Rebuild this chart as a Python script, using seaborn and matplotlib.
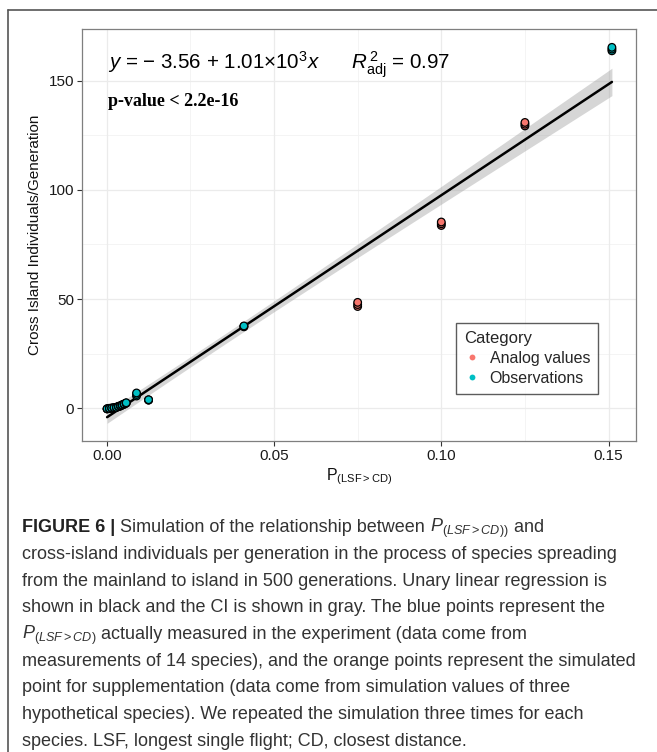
import matplotlib
matplotlib.use("Agg")
import matplotlib.pyplot as plt
from matplotlib import font_manager
from matplotlib.lines import Line2D
import numpy as np
import pandas as pd
import seaborn as sns

# ---------------- data ----------------
obs_x = [0.0001, 0.0001, 0.0001, 0.0008, 0.0008, 0.0008, 0.0015, 0.0015, 0.0015,
         0.0022, 0.0022, 0.0022, 0.0029, 0.0029, 0.0029, 0.0035, 0.0035, 0.0035,
         0.0041, 0.0041, 0.0041, 0.0046, 0.0046, 0.0046, 0.0052, 0.0052, 0.0052,
         0.0058, 0.0058, 0.0058, 0.0089, 0.0089, 0.0089, 0.0125, 0.0125, 0.0125,
         0.0410, 0.0410, 0.0410, 0.1510, 0.1510, 0.1510]
obs_y = [-0.3, -0.3, -0.2, -0.1, 0.0, -0.1, 0.0, 0.1, 0.1,
         0.2, 0.2, 0.3, 0.4, 0.5, 0.4, 0.8, 0.9, 0.8,
         1.0, 1.1, 1.2, 1.5, 1.6, 1.5, 1.8, 1.9, 2.0,
         2.3, 2.4, 2.5, 5.6, 6.3, 7.0, 3.7, 3.8, 3.9,
         37.3, 37.5, 37.7, 163.7, 164.5, 165.3]
ana_x = [0.075, 0.075, 0.075, 0.100, 0.100, 0.100, 0.125, 0.125, 0.125]
ana_y = [46.6, 47.5, 48.5, 83.7, 84.5, 85.3, 129.3, 130.1, 130.9]
categories = ["Analog values", "Observations"]
x_ticks = [0.00, 0.05, 0.10, 0.15]
x_tick_labels = ["0.00", "0.05", "0.10", "0.15"]
y_ticks = [0, 50, 100, 150]
y_tick_labels = ["0", "50", "100", "150"]

df = pd.DataFrame({
    "x": ana_x + obs_x,
    "y": ana_y + obs_y,
    "Category": [categories[0]] * len(ana_x) + [categories[1]] * len(obs_x),
})
palette = {"Analog values": "#F8766D", "Observations": "#00BFC4"}

# ---------------- style ----------------
sns.set_theme(style="white")
plt.rcParams["font.family"] = ["Liberation Sans", "DejaVu Sans"]
plt.rcParams["mathtext.fontset"] = "custom"
plt.rcParams["mathtext.rm"] = "Liberation Sans"
plt.rcParams["mathtext.it"] = "Liberation Sans:italic"
plt.rcParams["mathtext.bf"] = "Liberation Sans:bold"

W, H = 657, 752
fig = plt.figure(figsize=(W / 100, H / 100), dpi=100)
L, R, T, B = 82, 636, 29, 441
ax = fig.add_axes([L / W, 1 - B / H, (R - L) / W, (B - T) / H])

# grid
for v in (0.025, 0.075, 0.125):
    ax.axvline(v, color="#F3F3F3", lw=0.6, zorder=0)
for v in (25, 75, 125):
    ax.axhline(v, color="#F3F3F3", lw=0.6, zorder=0)
for v in x_ticks:
    ax.axvline(v, color="#EBEBEB", lw=0.9, zorder=0)
for v in y_ticks:
    ax.axhline(v, color="#EBEBEB", lw=0.9, zorder=0)

# confidence band (t-based, like geom_smooth)
xa = np.asarray(df["x"], float)
ya = np.asarray(df["y"], float)
n = len(xa)
b1, b0 = np.polyfit(xa, ya, 1)
resid = ya - (b0 + b1 * xa)
s = np.sqrt(np.sum(resid ** 2) / (n - 2))
sxx = np.sum((xa - xa.mean()) ** 2)
xg = np.linspace(xa.min(), xa.max(), 200)
se = s * np.sqrt(1 / n + (xg - xa.mean()) ** 2 / sxx)
tq = 2.01
yg = b0 + b1 * xg
ax.fill_between(xg, yg - tq * se, yg + tq * se, color="#999999", alpha=0.4,
                lw=0, zorder=2)

sns.regplot(data=df, x="x", y="y", ax=ax, scatter=False, ci=None,
            color="black", line_kws={"lw": 1.8, "zorder": 3}, truncate=True)

sns.scatterplot(data=df, x="x", y="y", hue="Category", palette=palette,
                hue_order=categories, s=30, edgecolor="black", linewidth=0.9,
                ax=ax, legend=False, zorder=4)

ax.set_xlim(-0.0074, 0.1582)
ax.set_ylim(-15.0, 173.7)
ax.set_xticks(x_ticks)
ax.set_xticklabels(x_tick_labels)
ax.set_yticks(y_ticks)
ax.set_yticklabels(y_tick_labels)
ax.tick_params(axis="both", direction="out", length=3.5, width=0.8,
               color="#333333", labelsize=11, labelcolor="#1A1A1A", pad=2,
               bottom=True, left=True)
for sp in ax.spines.values():
    sp.set_color("#7F7F7F")
    sp.set_linewidth(0.9)

ax.set_xlabel(r"P$_{\mathrm{(LSF{>}CD)}}$", fontsize=11.5, labelpad=3, color="#111111")
ax.set_ylabel("Cross Island Individuals/Generation", fontsize=11, labelpad=5,
              color="#111111")

# annotations
ax.text(0.0005, 157.5,
        r"$y$ = $-$ 3.56 + 1.01$\times$10$^3$$x$      $R^{\,2}_{\mathrm{adj}}$ = 0.97",
        fontsize=14.8, ha="left", va="center", color="black")
ax.text(0.0005, 140.5, "p-value < 2.2e-16", fontsize=13, fontweight="bold",
        family=["Liberation Serif", "DejaVu Serif"], ha="left", va="center",
        color="black")

# legend
handles = [Line2D([0], [0], marker="o", ls="", markersize=4.2,
                  markerfacecolor=palette[c], markeredgewidth=0) for c in categories]
leg = ax.legend(handles, categories, title="Category", loc="upper left",
                bbox_to_anchor=((456 - L) / (R - L), 1 - (323 - T) / (B - T)),
                fontsize=11.5, title_fontsize=12, frameon=True, fancybox=False,
                edgecolor="#333333", handlelength=1.0, handletextpad=0.6,
                borderpad=0.5, labelspacing=0.3, borderaxespad=0)
leg.get_frame().set_linewidth(1.0)
leg._legend_box.align = "left"

# outer frame (left and top)
fig.add_artist(Line2D([8 / W, 8 / W], [0, 1 - 10 / H], color="#555555", lw=1.2,
                      transform=fig.transFigure))
fig.add_artist(Line2D([8 / W, 1], [1 - 10 / H, 1 - 10 / H], color="#555555", lw=1.2,
                      transform=fig.transFigure))

# ---------------- caption ----------------
def has_font(name):
    try:
        font_manager.findfont(font_manager.FontProperties(family=name),
                              fallback_to_default=False)
        return True
    except Exception:
        return False

cap_family = "Liberation Sans Narrow" if has_font("Liberation Sans Narrow") else "Liberation Sans"
cap_fam = [cap_family, "DejaVu Sans"]
cap_color = "#333333"

renderer = fig.canvas.get_renderer()
probe = fig.text(0, 0, "from the mainland to island in 500 generations. Unary linear regression is",
                 fontsize=10, family=cap_fam)
wpx = probe.get_window_extent(renderer).width
probe.remove()
cap_fs = 10 * 586 / wpx

x0 = 22 / W
y_first = 532
dy = 26.75

lines = [
    None,
    "cross-island individuals per generation in the process of species spreading",
    "from the mainland to island in 500 generations. Unary linear regression is",
    "shown in black and the CI is shown in gray. The blue points represent the",
    None,
    "measurements of 14 species), and the orange points represent the simulated",
    "point for supplementation (data come from simulation values of three",
    "hypothetical species). We repeated the simulation three times for each",
    "species. LSF, longest single flight; CD, closest distance.",
]

def ypos(i):
    return 1 - (y_first + i * dy) / H

def chain(parts, i):
    prev = None
    for txt, kw in parts:
        props = dict(fontsize=cap_fs, family=cap_fam, color=cap_color, va="baseline")
        props.update(kw)
        if prev is None:
            t = fig.text(x0, ypos(i), txt, ha="left", **props)
        else:
            bb = prev.get_window_extent(renderer)
            t = fig.text(bb.x1 / W, ypos(i), txt, ha="left", **props)
        prev = t

sub = r"$P_{(LSF{>}CD))}$"
sub2 = r"$P_{(LSF{>}CD)}$"
chain([("FIGURE 6 |", {"fontweight": "bold", "color": "#222222"}),
       (" Simulation of the relationship between ", {}),
       (sub, {}),
       (" and", {})], 0)
chain([(sub2, {}), (" actually measured in the experiment (data come from", {})], 4)
for i, s_ in enumerate(lines):
    if s_ is not None:
        fig.text(x0, ypos(i), s_, ha="left", va="baseline", fontsize=cap_fs,
                 family=cap_fam, color=cap_color)

fig.savefig("out.png", dpi=100)
